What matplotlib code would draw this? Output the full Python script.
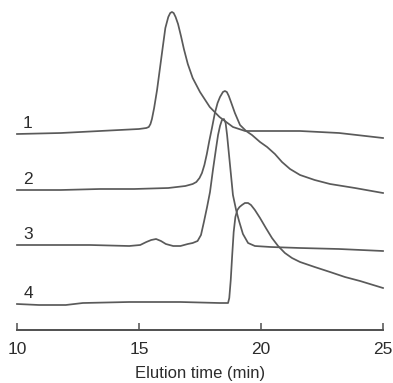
import matplotlib
matplotlib.use("Agg")
import matplotlib.pyplot as plt

# ---- data (elution time in min, detector signal in arbitrary units incl. trace offset) ----
t1 = [10.0, 11.8, 13.4, 15.0, 15.3, 15.4, 15.47, 15.53, 15.62, 15.74, 15.86, 15.98, 16.08, 16.2, 16.28, 16.35,
      16.42, 16.5, 16.6, 16.72, 16.84, 17.0, 17.2, 17.5, 17.9, 18.3, 18.85, 19.35, 20.4, 21.6, 23.2, 25.0]
s1 = [196, 197, 199, 201, 202, 203, 206, 211, 222, 240, 262, 284, 302, 313, 317, 318,
      317, 313, 306, 294, 281, 266, 252, 238, 223, 213, 203, 199, 199, 199, 197, 192]

t2 = [10.0, 11.8, 13.4, 14.8, 16.2, 16.9, 17.2, 17.35, 17.48, 17.58, 17.68, 17.78, 17.88, 17.99, 18.11,
      18.22, 18.32, 18.44, 18.52, 18.6, 18.68, 18.77, 18.93, 19.14, 19.39, 19.63, 19.96, 20.25,
      20.57, 20.86, 21.19, 21.6, 22.2, 22.83, 23.85, 25.0]
s2 = [140, 140, 141, 141, 142, 144, 146, 148, 152, 157, 165, 176, 189, 202, 217,
      227, 233, 238, 239, 238, 234, 228, 217, 205, 199, 195, 188, 183,
      176, 168, 161, 155, 150, 146, 142, 137]

t3 = [10.0, 13.0, 14.6, 15.05, 15.3, 15.5, 15.7, 15.9, 16.1, 16.4, 16.7, 17.0, 17.2, 17.4,
      17.54, 17.66, 17.79, 17.91, 18.03, 18.16, 18.24, 18.32, 18.4, 18.48, 18.55, 18.61, 18.69,
      18.77, 18.85, 18.98, 19.1, 19.26, 19.47, 19.75, 20.4, 21.6, 23.2, 25.0]
s3 = [85, 85, 84, 85, 88, 90, 91, 89, 86, 84, 84, 86, 87, 89,
      95, 108, 123, 138, 160, 182, 195, 204, 210, 211, 207, 195, 175,
      155, 135, 120, 109, 96, 87, 84, 83, 82, 81, 79]

t4 = [10.0, 10.9, 12.0, 12.7, 14.6, 16.7, 18.3, 18.65, 18.7, 18.76, 18.82, 18.88, 18.95, 19.03,
      19.12, 19.22, 19.34, 19.47, 19.59, 19.75, 19.96, 20.2, 20.45, 20.7, 20.98, 21.27, 21.6,
      22.2, 22.83, 23.44, 24.06, 25.0]
s4 = [26, 25, 25, 27, 28, 28, 27, 27, 32, 50, 75, 98, 113, 120,
      123, 125, 127, 127, 125, 120, 112, 102, 92, 84, 77, 72, 68,
      63, 58, 53, 49, 42]

traces = [(t1, s1), (t2, s2), (t3, s3), (t4, s4)]
trace_labels = ["1", "2", "3", "4"]
xticks = [10, 15, 20, 25]
xlabel = "Elution time (min)"

# ---- figure ----
plt.rcParams['font.family'] = ['Liberation Sans', 'DejaVu Sans']
line_col = "#5a5a5a"
text_col = "#2c2c2c"

fig = plt.figure(figsize=(3.93, 3.83), dpi=100)
ax = fig.add_axes([17 / 393, 53 / 383, 366 / 393, 330 / 383])

for (t, s), lab in zip(traces, trace_labels):
    ax.plot(t, s, color=line_col, lw=1.25, solid_joinstyle='round', clip_on=False)
    ax.annotate(lab, xy=(10.45, s[0]), xytext=(0, 2.5), textcoords='offset points',
                ha='center', va='bottom', fontsize=12.5, color=text_col)

ax.set_xlim(10, 25)
ax.set_ylim(0, 330)
for side in ('left', 'top', 'right'):
    ax.spines[side].set_visible(False)
ax.spines['bottom'].set_color("#505050")
ax.spines['bottom'].set_linewidth(1.4)
ax.set_yticks([])
ax.set_xticks(xticks)
ax.set_xticklabels([str(v) for v in xticks])
ax.tick_params(axis='x', direction='in', length=5, width=1.1, color="#505050",
               labelsize=12.5, labelcolor=text_col, pad=9)
ax.set_xlabel(xlabel, fontsize=12, color=text_col, labelpad=6)
ax.patch.set_alpha(0)

fig.savefig("out.png", dpi=100, facecolor="white")
